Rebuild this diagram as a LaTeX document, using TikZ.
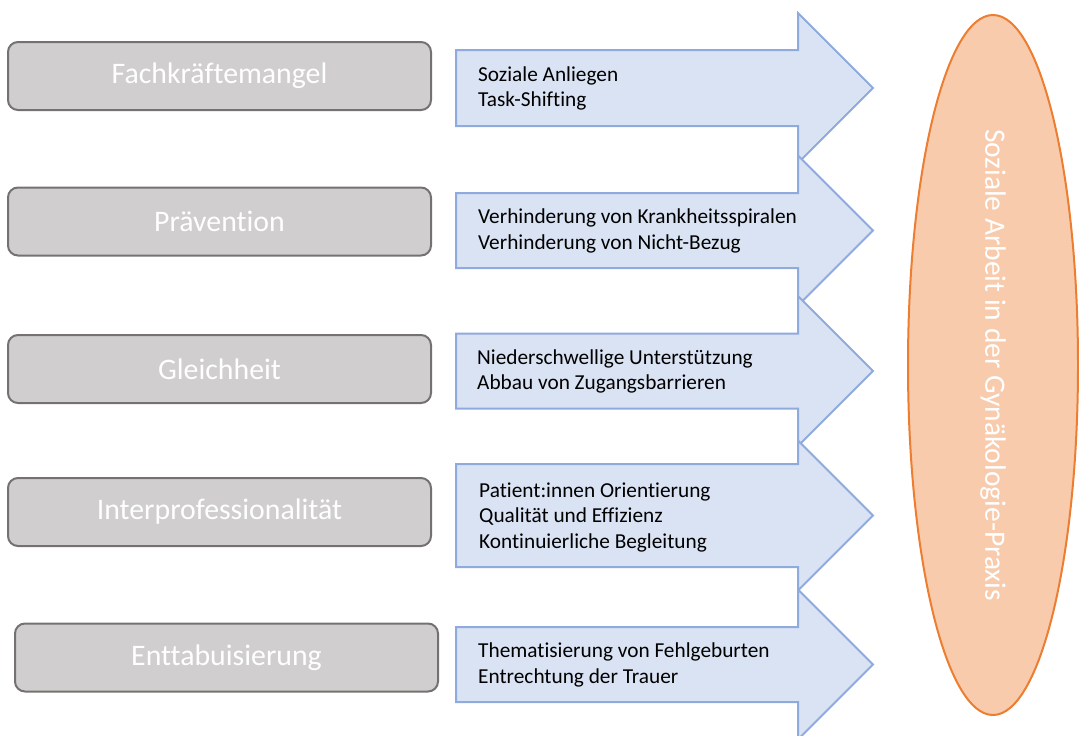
\documentclass[tikz,border=0pt]{standalone}
\usepackage{fontspec}
\setmainfont{Carlito}[Ligatures=NoCommon]
\usetikzlibrary{shapes.geometric}
\definecolor{boxgray}{HTML}{D0CECE}
\definecolor{boxline}{HTML}{767171}
\definecolor{arrowblue}{HTML}{DAE3F3}
\definecolor{arrowline}{HTML}{8FAADC}
\definecolor{goalfill}{HTML}{F8CBAD}
\definecolor{goalline}{HTML}{ED7D31}
\begin{document}
\begin{tikzpicture}[x=1pt, y=-1pt,
  topic/.style={draw=boxline, fill=boxgray, line width=2pt, rounded corners=10pt,
    minimum width=423pt, minimum height=68pt, text=white, font=\fontsize{29.8}{35}\selectfont},
  arrowbox/.style={draw=arrowline, fill=arrowblue, line width=2pt, line join=miter},
  points/.style={anchor=west, inner sep=0pt, align=left, font=\fontsize{21.3}{25.5}\selectfont},
  goal/.style={ellipse, draw=goalline, fill=goalfill, line width=2pt,
    minimum width=170pt, minimum height=700pt}]
  \useasboundingbox (0,0) rectangle (1079,736);
  \node[topic] (fach) at (219.5,76) {Fachkräftemangel};
  \node[topic] (praev) at (219.5,221.5) {Prävention};
  \node[topic] (gleich) at (219.5,369) {Gleichheit};
  \node[topic] (inter) at (219.5,512) {Interprofessionalität};
  \node[topic] (tabu) at (226.5,657.5) {Enttabuisierung};
  \foreach \y/\h in {88/38, 230.5/37.5, 371/37.5, 515.5/51.5, 664.5/37.5}
    \draw[arrowbox] (456,\y-\h) -- (798,\y-\h) -- (798,\y-75) -- (873,\y)
      -- (798,\y+75) -- (798,\y+\h) -- (456,\y+\h) -- cycle;
  \node[points] (fachtxt) at (478,88.5) {Soziale Anliegen\\Task-Shifting};
  \node[points] (praevtxt) at (478,231) {Verhinderung von Krankheitsspiralen\\Verhinderung von Nicht-Bezug};
  \node[points] (gleichtxt) at (477,371.5) {Niederschwellige Unterstützung\\Abbau von Zugangsbarrieren};
  \node[points] (intertxt) at (479,517) {Patient:innen Orientierung\\Qualität und Effizienz\\Kontinuierliche Begleitung};
  \node[points] (tabutxt) at (478,665) {Thematisierung von Fehlgeburten\\Entrechtung der Trauer};
  \node[goal] (goal) at (993,365) {};
  \node[rotate=-90, text=white, font=\fontsize{29.5}{34}\selectfont] (goaltxt) at (goal.center)
    {Soziale Arbeit in der Gynäkologie-Praxis};
\end{tikzpicture}
\end{document}
